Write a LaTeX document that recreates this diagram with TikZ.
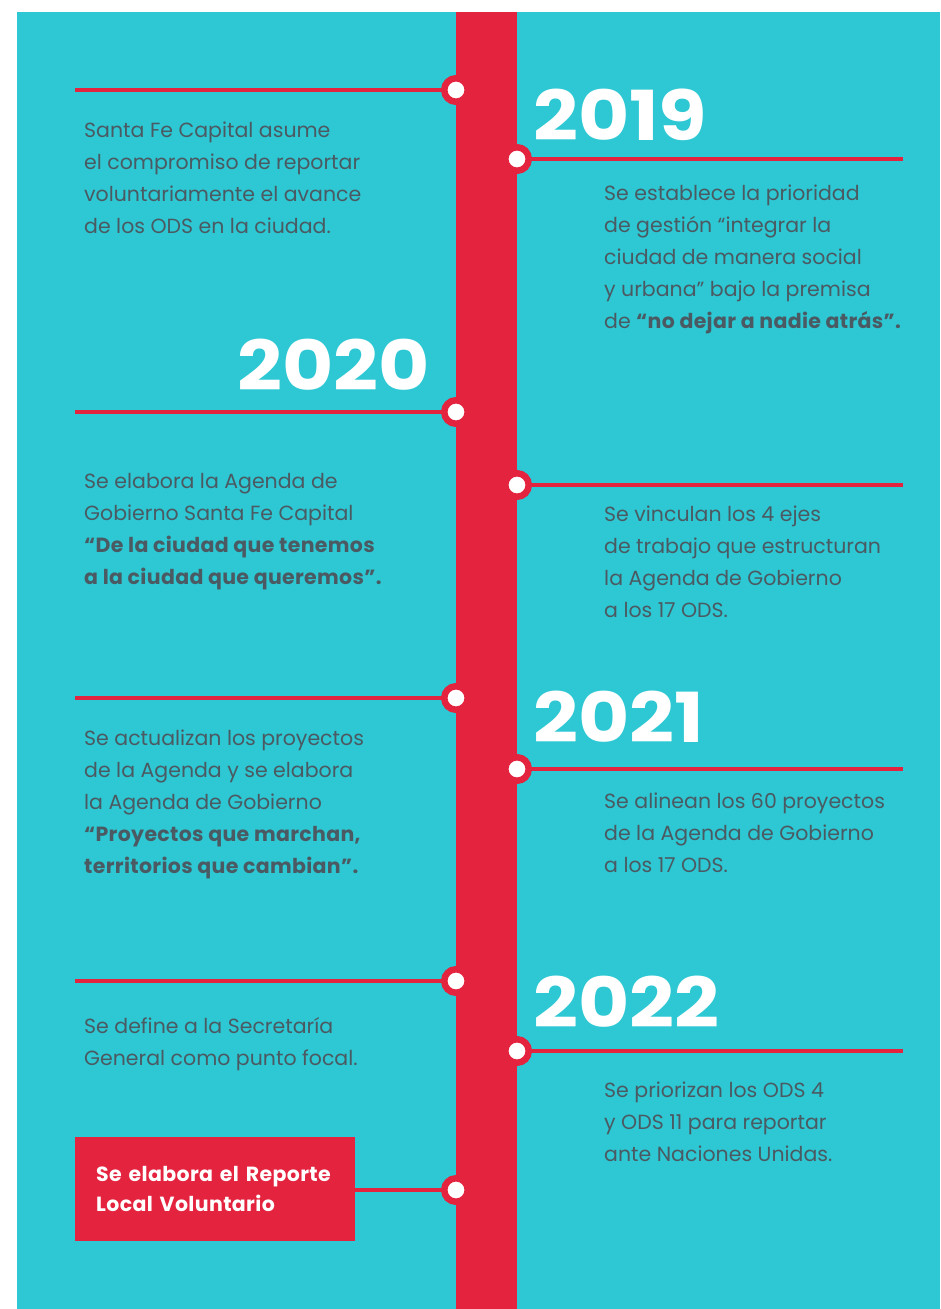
\documentclass[tikz,border=0pt]{standalone}
\usepackage{fontspec}
\setmainfont{Poppins}
\definecolor{teal}{HTML}{2DC8D3}
\definecolor{tlred}{HTML}{E4233F}
\definecolor{txt}{HTML}{4B5A62}
\newcommand{\bq}[1]{{\bfseries\addfontfeature{LetterSpace=1.6}#1}}
\newcommand{\yr}[1]{\scalebox{1.14}[1]{#1}}
\begin{document}
\begin{tikzpicture}[x=1pt,y=-1pt,
  redline/.style={draw=tlred,line width=4pt},
  dot/.style={circle,draw=tlred,fill=white,line width=6.5pt,minimum size=23.5pt,inner sep=0pt},
  year/.style={anchor=base west,inner sep=0pt,text=white,font=\fontsize{69}{69}\selectfont\bfseries},
  body/.style={anchor=base west,inner sep=0pt,align=left,text=txt,font=\fontsize{20.5}{32}\selectfont},
  redbox/.style={anchor=north west,fill=tlred,text=white,align=left,minimum width=280pt,minimum height=104pt,text width=238pt,inner xsep=21pt,inner ysep=0pt,font=\fontsize{20.5}{30}\selectfont\bfseries\addfontfeature{LetterSpace=1.8}}]
\useasboundingbox (0,0) rectangle (940,1309);
\fill[white] (0,0) rectangle (940,1309);
\fill[teal] (17,12) rectangle (940,1309);
\fill[tlred] (456,12) rectangle (517,1309);
% left start points
\coordinate (la) at (75,90);
\coordinate (lb) at (75,412);
\coordinate (lc) at (75,698);
\coordinate (ld) at (75,981);
% right end points
\coordinate (ra) at (903,159);
\coordinate (rb) at (903,485);
\coordinate (rc) at (903,769);
\coordinate (rd) at (903,1051);
% red box
\node[redbox] (box) at (75,1137) {Se elabora el Reporte\\Local Voluntario};
% dot positions
\coordinate (da) at (456,90);
\coordinate (db) at (456,412);
\coordinate (dc) at (456,698);
\coordinate (dd) at (456,981);
\coordinate (de) at (456,1190);
\coordinate (ea) at (517,159);
\coordinate (eb) at (517,485);
\coordinate (ec) at (517,769);
\coordinate (ed) at (517,1051);
% connectors
\draw[redline] (la) -- (da);
\draw[redline] (lb) -- (db);
\draw[redline] (lc) -- (dc);
\draw[redline] (ld) -- (dd);
\draw[redline] (box.east |- de) -- (de);
\draw[redline] (ea) -- (ra);
\draw[redline] (eb) -- (rb);
\draw[redline] (ec) -- (rc);
\draw[redline] (ed) -- (rd);
% dots
\node[dot] (nda) at (da) {};
\node[dot] (ndb) at (db) {};
\node[dot] (ndc) at (dc) {};
\node[dot] (ndd) at (dd) {};
\node[dot] (nde) at (de) {};
\node[dot] (nea) at (ea) {};
\node[dot] (neb) at (eb) {};
\node[dot] (nec) at (ec) {};
\node[dot] (ned) at (ed) {};
% years
\node[year] (y19) at (533,140) {\yr{2019}};
\node[year] (y20) at (237,390) {\yr{2020}};
\node[year] (y21) at (533,742) {\yr{2021}};
\node[year] (y22) at (533,1027) {\yr{2022}};
% texts (anchored at baseline of last line)
\node[body] (t1) at (84,233) {Santa Fe Capital asume\\el compromiso de reportar\\voluntariamente el avance\\de los ODS en la ciudad.};
\node[body] (t2) at (604,328) {Se establece la prioridad\\de gestión “integrar la\\ciudad de manera social\\y urbana” bajo la premisa\\de \bq{“no dejar a nadie atrás”.}};
\node[body] (t3) at (84,584) {Se elabora la Agenda de\\Gobierno Santa Fe Capital\\\bq{“De la ciudad que tenemos}\\\bq{a la ciudad que queremos”.}};
\node[body] (t4) at (604,617) {Se vinculan los 4 ejes\\de trabajo que estructuran\\la Agenda de Gobierno\\a los 17 ODS.};
\node[body] (t5) at (84,873) {Se actualizan los proyectos\\de la Agenda y se elabora\\la Agenda de Gobierno\\\bq{“Proyectos que marchan,}\\\bq{territorios que cambian”.}};
\node[body] (t6) at (604,872) {Se alinean los 60 proyectos\\de la Agenda de Gobierno\\a los 17 ODS.};
\node[body] (t7) at (84,1065) {Se define a la Secretaría\\General como punto focal.};
\node[body] (t8) at (604,1161) {Se priorizan los ODS 4\\y ODS 11 para reportar\\ante Naciones Unidas.};
\end{tikzpicture}
\end{document}
